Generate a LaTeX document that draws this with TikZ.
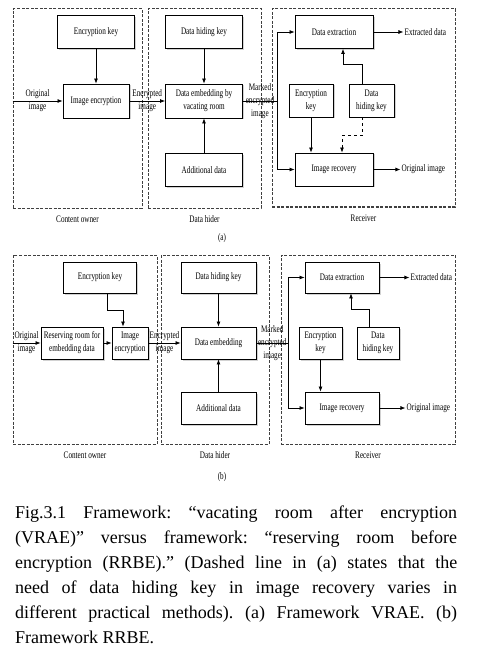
\documentclass[tikz,border=0pt]{standalone}
\usepackage{fontspec}
\setmainfont{Liberation Serif}
\newfontfamily\boxfont[FakeStretch=0.72]{Liberation Serif}
\usetikzlibrary{arrows.meta, positioning, shadows}

\begin{document}
\begin{tikzpicture}[
	x=1pt, y=-1pt,
	node distance=6pt,
	block/.style={rectangle, draw=black, line width=0.9pt, fill=white, drop shadow={shadow xshift=1.5pt, shadow yshift=-1.5pt, fill=black!35}, align=center, inner sep=1pt, font=\boxfont\fontsize{10}{13}\selectfont},
	zone/.style={rectangle, draw=black!75, line width=1pt, dash pattern=on 3pt off 1.5pt},
	tag/.style={align=center, inner sep=1pt, font=\boxfont\fontsize{10}{13}\selectfont},
	arrow/.style={-{Latex[length=5pt, width=4pt]}, line width=0.7pt},
	link/.style={line width=0.7pt}
	]
	
	\useasboundingbox (0,0) rectangle (486,660);
	
	% (a) VRAE
	\node[zone, minimum width=129pt, minimum height=199pt] (ownerA) at (77.5,108.5) {};
	\node[zone, minimum width=113pt, minimum height=199pt] (hiderA) at (204.5,108.5) {};
	\node[zone, minimum width=183pt, minimum height=198pt] (recvA) at (363.5,108) {};
	\node[tag, below=of ownerA] (ownerAtag) {Content owner};
	\node[tag, below=of hiderA] (hiderAtag) {Data hider};
	\node[tag, below=of recvA] (recvAtag) {Receiver};
	\node[tag] (subA) at (222,238) {(a)};
	
	\node[block, minimum width=77pt, minimum height=33pt] (encA) at (96,32) {Encryption key};
	\node[block, minimum width=66pt, minimum height=34pt] (imgencA) at (96,101) {Image encryption};
	\node[block, minimum width=77pt, minimum height=33pt] (hkA) at (204,32) {Data hiding key};
	\node[block, minimum width=77pt, minimum height=34pt] (embA) at (204,101) {Data embedding by\\vacating room};
	\node[block, minimum width=77pt, minimum height=33pt] (addA) at (204,170) {Additional data};
	\node[block, minimum width=78pt, minimum height=33pt] (extA) at (334,32) {Data extraction};
	\node[block, minimum width=44pt, minimum height=33pt] (rekA) at (311,100.5) {Encryption\\key};
	\node[block, minimum width=45pt, minimum height=33pt] (rhkA) at (371.5,100.5) {Data\\hiding key};
	\node[block, minimum width=78pt, minimum height=33pt] (recA) at (334,169.5) {Image recovery};
	\node[tag, right=30pt of extA] (xdA) {Extracted data};
	\node[tag, right=27pt of recA] (oiA) {Original image};
	\coordinate (brA) at (277,101);
	
	\draw[arrow] (ownerA.west |- imgencA) -- node[tag]{Original\\image} (imgencA);
	\draw[arrow] (encA) -- (imgencA);
	\draw[arrow] (imgencA) -- node[tag]{Encrypted\\image} (embA);
	\draw[arrow] (hkA) -- (embA);
	\draw[arrow] (addA) -- (embA);
	\draw[link] (embA) -- node[tag]{Marked\\encrypted\\image} (brA);
	\draw[arrow] (brA) |- (extA);
	\draw[arrow] (brA) |- (recA);
	\draw[arrow] (extA) -- (xdA);
	\draw[arrow] (recA) -- (oiA);
	\draw[arrow] (rekA) -- (rekA |- recA.north);
	\draw[arrow] ([xshift=-9pt]rhkA.north) -- ++(0,-19) -| ([xshift=9pt]extA.south);
	\draw[arrow, dashed] ([xshift=-9pt]rhkA.south) -- ++(0,18) -| ([xshift=8pt]recA.north);
	
	% (b) RRBE
	\node[zone, minimum width=144pt, minimum height=189pt] (ownerB) at (85,349.5) {};
	\node[zone, minimum width=108pt, minimum height=189pt] (hiderB) at (215,349.5) {};
	\node[zone, minimum width=174pt, minimum height=189pt] (recvB) at (368,349.5) {};
	\node[tag, below=of ownerB] (ownerBtag) {Content owner};
	\node[tag, below=of hiderB] (hiderBtag) {Data hider};
	\node[tag, below=of recvB] (recvBtag) {Receiver};
	\node[tag] (subB) at (222,477) {(b)};
	
	\node[block, minimum width=73pt, minimum height=31pt] (encB) at (100,277.5) {Encryption key};
	\node[block, minimum width=62pt, minimum height=32pt] (resB) at (72,343) {Reserving room for\\embedding data};
	\node[block, minimum width=36pt, minimum height=32pt] (imgencB) at (130,343) {Image\\encryption};
	\node[block, minimum width=75pt, minimum height=31pt] (hkB) at (218.5,277.5) {Data hiding key};
	\node[block, minimum width=75pt, minimum height=32pt] (embB) at (218.5,343) {Data embedding};
	\node[block, minimum width=75pt, minimum height=32pt] (addB) at (218.5,408) {Additional data};
	\node[block, minimum width=74pt, minimum height=31pt] (extB) at (342,277.5) {Data extraction};
	\node[block, minimum width=43pt, minimum height=32pt] (rekB) at (320.5,343) {Encryption\\key};
	\node[block, minimum width=42pt, minimum height=32pt] (rhkB) at (378,343) {Data\\hiding key};
	\node[block, minimum width=74pt, minimum height=32pt] (recB) at (342,408) {Image recovery};
	\node[tag, right=30pt of extB] (xdB) {Extracted data};
	\node[tag, right=26pt of recB] (oiB) {Original image};
	\coordinate (brB) at (288,343);
	
	\draw[arrow] (ownerB.west |- resB) -- node[tag]{Original\\image} (resB);
	\draw[arrow] (resB) -- (imgencB);
	\draw[arrow] ([xshift=7pt]encB.south) -- ++(0,17) -| ([xshift=-7pt]imgencB.north);
	\draw[arrow] (imgencB) -- node[tag]{Encrypted\\image} (embB);
	\draw[arrow] (hkB) -- (embB);
	\draw[arrow] (addB) -- (embB);
	\draw[link] (embB) -- node[tag]{Marked\\encrypted\\image} (brB);
	\draw[arrow] (brB) |- (extB);
	\draw[arrow] (brB) |- (recB);
	\draw[arrow] (extB) -- (xdB);
	\draw[arrow] (recB) -- (oiB);
	\draw[arrow] (rekB) -- (rekB |- recB.north);
	\draw[arrow] ([xshift=-9pt]rhkB.north) -- ++(0,-17) -| ([xshift=9pt]extB.south);
	
	% caption
	\node[anchor=north west, text width=442pt, align=justify, inner sep=0pt, font=\fontsize{18}{25}\selectfont\frenchspacing] (caption) at (15,506) {Fig.3.1 Framework: “vacating room after encryption\linebreak (VRAE)” versus framework: “reserving room before\linebreak encryption (RRBE).” (Dashed line in (a) states that the\linebreak need of data hiding key in image recovery varies in\linebreak different practical methods). (a) Framework VRAE. (b)\linebreak Framework RRBE.};
	
\end{tikzpicture}
\end{document}
